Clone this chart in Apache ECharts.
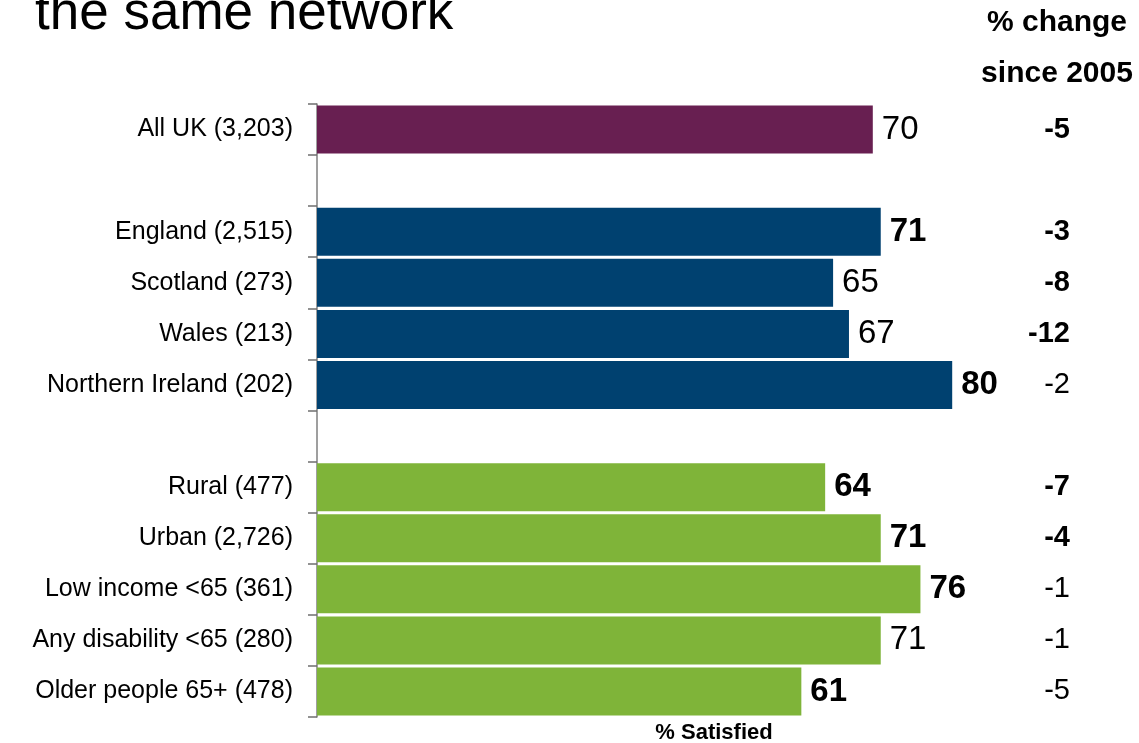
<!DOCTYPE html>
<html>
<head>
<meta charset="utf-8">
<title>Satisfaction with the same network</title>
<script src="https://cdn.jsdelivr.net/npm/echarts@6/dist/echarts.min.js"></script>
<style>
  html, body { margin: 0; padding: 0; background: #ffffff; }
  #chart { width: 1139px; height: 743px; }
</style>
</head>
<body>
<div id="chart"></div>
<script>
// Rows top to bottom; empty strings are spacer rows between groups.
const categories = [
  'All UK (3,203)',
  '',
  'England (2,515)',
  'Scotland (273)',
  'Wales (213)',
  'Northern Ireland (202)',
  '',
  'Rural (477)',
  'Urban (2,726)',
  'Low income <65 (361)',
  'Any disability <65 (280)',
  'Older people 65+ (478)'
];
const groups = ['uk', null, 'nation', 'nation', 'nation', 'nation', null,
                'segment', 'segment', 'segment', 'segment', 'segment'];
// % satisfied
const satisfied = [70, null, 71, 65, 67, 80, null, 64, 71, 76, 71, 61];
// significant difference flag for the satisfied figure (shown in bold)
const satisfiedSignificant = [false, false, true, false, false, true, false,
                              true, true, true, false, true];
// % change since 2005
const changeSince2005 = [-5, null, -3, -8, -12, -2, null, -7, -4, -1, -1, -5];
const changeSignificant = [true, false, true, true, true, false, false,
                           true, true, false, false, false];

const groupColors = { uk: '#681F51', nation: '#004170', segment: '#7FB439' };
const FONT = '"Liberation Sans", Arial, Helvetica, sans-serif';

const chart = echarts.init(document.getElementById('chart'));

const barData = satisfied.map((v, i) => {
  if (v === null) return '-';
  return {
    value: v,
    itemStyle: { color: groupColors[groups[i]] },
    label: { fontWeight: satisfiedSignificant[i] ? 'bold' : 'normal' }
  };
});

chart.setOption({
  backgroundColor: '#ffffff',
  animation: false,
  textStyle: { fontFamily: FONT },
  grid: { left: 317, right: 28, top: 104, bottom: 26, containLabel: false,
          outerBoundsMode: 'none' },
  xAxis: {
    type: 'value',
    min: 0,
    max: 100,
    name: '% Satisfied',
    nameLocation: 'middle',
    nameGap: 5,
    nameTextStyle: { fontFamily: FONT, fontSize: 22, fontWeight: 'bold', color: '#000' },
    axisLine: { show: false },
    axisTick: { show: false },
    axisLabel: { show: false },
    splitLine: { show: false }
  },
  yAxis: [
    {
      type: 'category',
      data: categories,
      inverse: true,
      axisLine: { show: true, lineStyle: { color: '#7f7f7f', width: 1.5 } },
      axisTick: { show: true, length: 9, alignWithLabel: false,
                  lineStyle: { color: '#6f6f6f', width: 1.5 } },
      axisLabel: { fontFamily: FONT, fontSize: 25, color: '#000', margin: 24 },
      splitLine: { show: false }
    },
    {
      type: 'category',
      data: changeSince2005.map(v => (v === null ? '' : String(v))),
      inverse: true,
      position: 'right',
      axisLine: { show: false },
      axisTick: { show: false },
      axisLabel: {
        margin: -41,
        align: 'right',
        formatter: (value, index) => {
          if (value === '') return '';
          return changeSignificant[index] ? '{b|' + value + '}' : '{n|' + value + '}';
        },
        rich: {
          b: { fontFamily: FONT, fontSize: 29, fontWeight: 'bold', color: '#000' },
          n: { fontFamily: FONT, fontSize: 29, fontWeight: 'normal', color: '#000' }
        }
      },
      splitLine: { show: false }
    }
  ],
  graphic: [
    {
      type: 'text',
      left: 35,
      top: -12,
      style: { text: 'the same network', fontFamily: FONT, fontSize: 53, fill: '#000' }
    },
    {
      type: 'text',
      x: 1057, y: 23,
      style: { text: '% change', fontFamily: FONT, fontSize: 30, fontWeight: 'bold',
               fill: '#000', align: 'center', verticalAlign: 'middle' }
    },
    {
      type: 'text',
      x: 1057, y: 74,
      style: { text: 'since 2005', fontFamily: FONT, fontSize: 30, fontWeight: 'bold',
               fill: '#000', align: 'center', verticalAlign: 'middle' }
    }
  ],
  series: [
    {
      type: 'bar',
      yAxisIndex: 0,
      data: barData,
      barWidth: 48,
      label: {
        show: true,
        position: 'right',
        distance: 9,
        fontFamily: FONT,
        fontSize: 33,
        color: '#000'
      }
    }
  ]
});
</script>
</body>
</html>
